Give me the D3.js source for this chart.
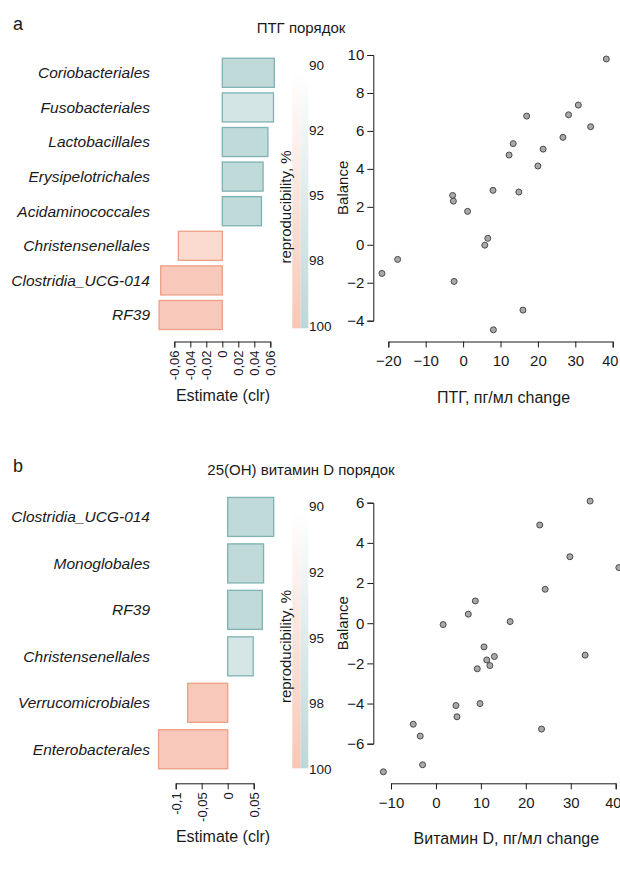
<!DOCTYPE html>
<html>
<head>
<meta charset="utf-8">
<script src="https://cdn.jsdelivr.net/npm/d3@7"></script>
<style>
  body { margin: 0; background: #fff; }
  svg { display: block; font-family: "Liberation Sans", Arial, sans-serif; }
</style>
</head>
<body>
<div id="chart"></div>
<script>
"use strict"

// panel a: PTH, order level
const ordersA = ["Coriobacteriales", "Fusobacteriales", "Lactobacillales", "Erysipelotrichales",
                 "Acidaminococcales", "Christensenellales", "Clostridia_UCG-014", "RF39"];
const estimatesA = [0.065, 0.064, 0.057, 0.051, 0.049, -0.055, -0.077, -0.079];
const reproA = [99.5, 96.6, 99.5, 99.5, 99.5, 96.4, 99.5, 99.5];
const estTicksA = [-0.06, -0.04, -0.02, 0, 0.02, 0.04, 0.06];
const estTickLabelsA = ["-0,06", "-0,04", "-0,02", "0", "0,02", "0,04", "0,06"];

const ptgChange = [38.3, 30.8, 28.2, 17.0, 34.1, 26.7, 13.4, 21.4, 12.3, 20.0, 8.0,
                   14.9, -2.8, -2.6, 1.2, 6.6, 5.8, -17.5, -21.7, -2.4, 16.0, 8.1];
const ptgBalance = [9.79, 7.36, 6.85, 6.78, 6.22, 5.66, 5.33, 5.04, 4.73, 4.15, 2.87,
                    2.78, 2.60, 2.30, 1.76, 0.34, -0.02, -0.77, -1.51, -1.93, -3.44, -4.48];
const ptgXTicks = [-20, -10, 0, 10, 20, 30, 40];
const ptgYTicks = [-4, -2, 0, 2, 4, 6, 8, 10];

// panel b: 25(OH) vitamin D, order level
const ordersB = ["Clostridia_UCG-014", "Monoglobales", "RF39", "Christensenellales",
                 "Verrucomicrobiales", "Enterobacterales"];
const estimatesB = [0.0885, 0.069, 0.0665, 0.049, -0.077, -0.133];
const reproB = [99.5, 99.5, 99.5, 96.2, 99.5, 99.5];
const estTicksB = [-0.1, -0.05, 0, 0.05];
const estTickLabelsB = ["-0,1", "-0,05", "0", "0,05"];

const vitdChange = [34.3, 23.1, 29.8, 40.7, 24.3, 8.76, 7.2, 1.6, 16.5, 10.7, 11.3, 13.0,
                    12.0, 9.2, 33.2, 9.8, 4.45, 4.68, -5.05, -3.5, 23.5, -2.97, -11.7];
const vitdBalance = [6.08, 4.89, 3.31, 2.77, 1.69, 1.11, 0.45, -0.07, 0.08, -1.18, -1.83, -1.66,
                     -2.11, -2.27, -1.59, -4.0, -4.1, -4.66, -5.03, -5.62, -5.27, -7.05, -7.40];
const vitdXTicks = [-10, 0, 10, 20, 30, 40];
const vitdYTicks = [-6, -4, -2, 0, 2, 4, 6];

const legendLabels = ["90", "92", "95", "98", "100"];

const ink = "#1a1a1a";
const tealFull = "#bdd7d7", tealLine = "#7fb2b2";
const pinkFull = "#f8c6b6", pinkLine = "#ee9f85";

let svg = d3.select("#chart").append("svg")
  .attr("width", 620)
  .attr("height", 870);

let defs = svg.append("defs");
[["gradTeal", tealFull], ["gradPink", pinkFull]].forEach(([id, c]) => {
  let g = defs.append("linearGradient").attr("id", id)
    .attr("x1", 0).attr("y1", 0).attr("x2", 0).attr("y2", 1);
  g.append("stop").attr("offset", 0).attr("stop-color", "#ffffff");
  g.append("stop").attr("offset", 1).attr("stop-color", c);
});

function drawPanel(cfg) {
  let { letter, title, top, orders, estimates, repro, estTicks, estTickLabels,
        estRange, bandRange, axisY, legendTop, legendBottom, legendLabelRange,
        xs, ys, xTicks, yTicks, xRange, yRange, xTitle } = cfg;

  // panel letter and title
  svg.append("text")
    .attr("x", 13).attr("y", top + 30)
    .attr("font-size", 18).attr("fill", ink)
    .text(letter);
  svg.append("text")
    .attr("x", 301).attr("y", top + 33)
    .attr("text-anchor", "middle")
    .attr("font-size", 15).attr("fill", ink)
    .text(title);

  // bar chart
  let x = d3.scaleLinear().domain(d3.extent(estTicks)).range(estRange);
  let y = d3.scaleBand().domain(orders).range(bandRange).paddingInner(0.16).paddingOuter(0.08);
  let teal = d3.scaleLinear().domain([90, 100]).range(["#ffffff", tealFull]);
  let pink = d3.scaleLinear().domain([90, 100]).range(["#ffffff", pinkFull]);

  let bars = orders.map((o, i) => ({ order: o, est: estimates[i], rep: repro[i] }));

  svg.append("g")
    .selectAll("rect")
    .data(bars)
    .join("rect")
      .attr("x", (d) => x(Math.min(0, d.est)))
      .attr("y", (d) => y(d.order))
      .attr("width", (d) => Math.abs(x(d.est) - x(0)))
      .attr("height", y.bandwidth())
      .attr("fill", (d) => d.est > 0 ? teal(d.rep) : pink(d.rep))
      .attr("stroke", (d) => d.est > 0 ? tealLine : pinkLine)
      .attr("stroke-width", 1.3);

  svg.append("g")
    .selectAll("text")
    .data(bars)
    .join("text")
      .attr("x", 150)
      .attr("y", (d) => y(d.order) + y.bandwidth() / 2)
      .attr("dy", "0.35em")
      .attr("text-anchor", "end")
      .attr("font-size", 15.5)
      .attr("font-style", "italic")
      .attr("fill", ink)
      .text((d) => d.order);

  let xAxis = svg.append("g")
    .attr("transform", `translate(0,${axisY})`)
    .call(d3.axisBottom(x).tickValues(estTicks).tickSizeOuter(0).tickSize(6)
      .tickFormat((d, i) => estTickLabels[i]));
  xAxis.selectAll("text")
    .attr("font-size", 13)
    .attr("fill", ink)
    .attr("text-anchor", "end")
    .attr("transform", "rotate(-90)")
    .attr("x", -9).attr("y", 0).attr("dy", "0.35em");
  xAxis.selectAll("line, path").attr("stroke", ink);

  svg.append("text")
    .attr("x", 223).attr("y", axisY + 59)
    .attr("text-anchor", "middle")
    .attr("font-size", 16).attr("fill", ink)
    .text("Estimate (clr)");

  // reproducibility legend
  svg.append("rect")
    .attr("x", 292.3).attr("y", legendTop)
    .attr("width", 8.4).attr("height", legendBottom - legendTop)
    .attr("fill", "url(#gradPink)");
  svg.append("rect")
    .attr("x", 300.7).attr("y", legendTop)
    .attr("width", 7.6).attr("height", legendBottom - legendTop)
    .attr("fill", "url(#gradTeal)");
  let ly = d3.scalePoint().domain(legendLabels).range(legendLabelRange);
  svg.append("g")
    .selectAll("text")
    .data(legendLabels)
    .join("text")
      .attr("x", 309)
      .attr("y", (d) => ly(d))
      .attr("dy", "0.35em")
      .attr("font-size", 13.5)
      .attr("fill", ink)
      .text((d) => d);
  svg.append("text")
    .attr("transform", `translate(291,${(legendTop + legendBottom) / 2 + 7}) rotate(-90)`)
    .attr("text-anchor", "middle")
    .attr("font-size", 15).attr("fill", ink)
    .text("reproducibility, %");

  // scatter
  let sx = d3.scaleLinear().domain(d3.extent(xTicks)).range(xRange);
  let sy = d3.scaleLinear().domain(d3.extent(yTicks)).range(yRange);
  let pts = xs.map((v, i) => ({ x: v, y: ys[i] }));

  let gx = svg.append("g")
    .attr("transform", `translate(0,${axisY})`)
    .call(d3.axisBottom(sx).tickValues(xTicks).tickSizeOuter(0).tickSize(6).tickPadding(8));
  let gy = svg.append("g")
    .attr("transform", `translate(373.3,0)`)
    .call(d3.axisLeft(sy).tickValues(yTicks).tickSizeOuter(0).tickSize(6).tickPadding(3));
  [gx, gy].forEach((g) => {
    g.selectAll("text").attr("font-size", 15).attr("fill", ink).attr("font-family", null);
    g.selectAll("line, path").attr("stroke", ink);
  });
  // keep the last x label inside the page edge
  gx.selectAll(".tick:last-of-type text").attr("font-size", 14.5).attr("dx", -3);

  svg.append("g")
    .selectAll("circle")
    .data(pts)
    .join("circle")
      .attr("cx", (d) => sx(d.x))
      .attr("cy", (d) => sy(d.y))
      .attr("r", 3)
      .attr("fill", "#a9a9a9")
      .attr("stroke", "#4a4a4a")
      .attr("stroke-width", 1);

  svg.append("text")
    .attr("transform", `translate(348,${(yRange[0] + yRange[1]) / 2}) rotate(-90)`)
    .attr("text-anchor", "middle")
    .attr("font-size", 15).attr("fill", ink)
    .text("Balance");
  svg.append("text")
    .attr("x", (xRange[0] + xRange[1]) / 2 + 3).attr("y", axisY + 61)
    .attr("text-anchor", "middle")
    .attr("font-size", 16).attr("fill", ink)
    .text(xTitle);
}

drawPanel({
  letter: "a", title: "ПТГ порядок", top: 0,
  orders: ordersA, estimates: estimatesA, repro: reproA,
  estTicks: estTicksA, estTickLabels: estTickLabelsA,
  estRange: [174.3, 270.3], bandRange: [55.5, 332.3], axisY: 341.5,
  legendTop: 71.7, legendBottom: 328.3, legendLabelRange: [65, 326],
  xs: ptgChange, ys: ptgBalance, xTicks: ptgXTicks, yTicks: ptgYTicks,
  xRange: [388.3, 612.7], yRange: [320.7, 55], xTitle: "ПТГ, пг/мл change"
});

drawPanel({
  letter: "b", title: "25(OH) витамин D порядок", top: 442,
  orders: ordersB, estimates: estimatesB, repro: reproB,
  estTicks: estTicksB, estTickLabels: estTickLabelsB,
  estRange: [175.7, 253.7], bandRange: [493.7, 772.5], axisY: 783.3,
  legendTop: 510.7, legendBottom: 768.3, legendLabelRange: [506.7, 769.3],
  xs: vitdChange, ys: vitdBalance, xTicks: vitdXTicks, yTicks: vitdYTicks,
  xRange: [391, 615.7], yRange: [743.7, 502.7], xTitle: "Витамин D, пг/мл change"
});
</script>
</body>
</html>
